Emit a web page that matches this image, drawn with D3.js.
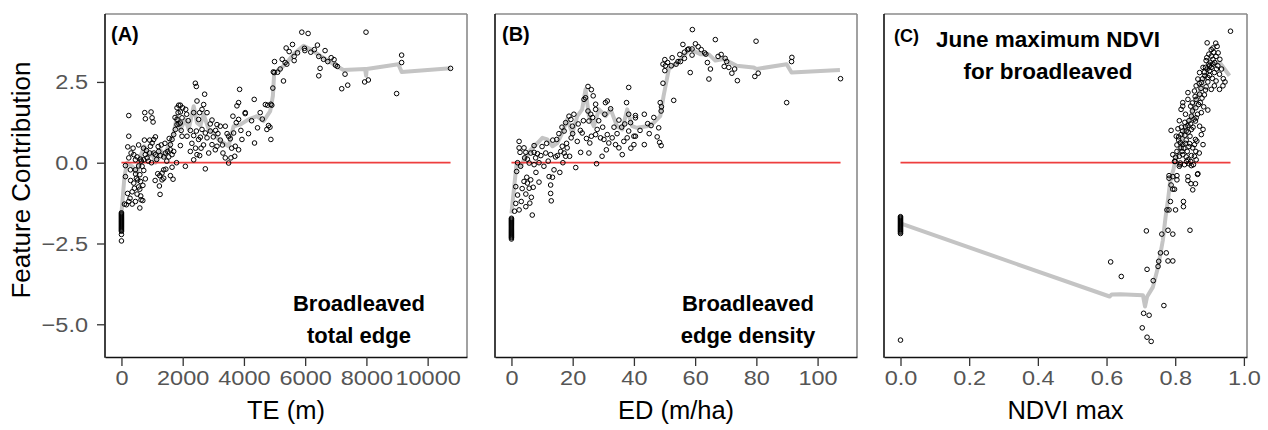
<!DOCTYPE html>
<html><head><meta charset="utf-8">
<script src="https://cdn.jsdelivr.net/npm/d3@7"></script>
<style>body{margin:0;background:#fff}svg{display:block;font-family:"Liberation Sans",Arial,sans-serif}</style>
</head><body>
<svg id="chart" width="1268" height="430"></svg>
<script>
// ---------------- data ----------------
const teZeroY = [-1.55,-1.58,-1.61,-1.64,-1.67,-1.7,-1.73,-1.76,-1.79,-1.82,-1.85,-1.88,-1.91,-1.94,-1.97,-2.0,-2.03,-2.06,-2.09,-2.12,-2.22,-2.42];
const tePoints = [[98,-1.28],[239,-1.2],[456,-1.2],[641,-1.15],[696,-1.17],[630,-1.03],[510,-0.97],[424,-0.79],[598,-0.82],[402,-0.63],[533,-0.53],[620,-0.58],[489,-0.48],[130,-0.43],[130,-0.09],[293,-0.22],[456,-0.22],[674,-0.11],[728,-0.24],[600,-0.37],[239,0.15],[315,0.30],[402,0.25],[456,0.09],[510,0.18],[620,0.11],[728,0.09],[837,0.15],[206,0.49],[239,0.82],[239,1.46],[761,1.55],[967,1.57],[782,1.36],[1000,1.39],[1033,1.26],[750,0.70],[924,0.70],[1000,0.61],[1054,0.72],[1109,0.80],[946,0.51],[815,0.38],[924,0.30],[1109,0.25],[1217,0.35],[1270,0.22],[1380,0.18],[1435,0.30],[1511,0.35],[1598,0.40],[1545,0.18],[1652,0.25],[1706,0.35],[1598,0.56],[1652,0.72],[1706,0.87],[1761,1.03],[1815,1.18],[1815,1.34],[1869,1.78],[1924,1.78],[1815,1.70],[1924,1.57],[1978,1.39],[1924,1.23],[2098,1.65],[2130,1.50],[2141,0.82],[1978,0.82],[1924,0.53],[1380,-0.22],[1326,-0.32],[1250,-0.40],[1326,-0.53],[1380,-0.48],[1239,-0.72],[1261,-0.98],[1185,-0.34],[1598,-0.40],[1685,-0.51],[1652,-0.14],[2087,-0.11],[2250,0.35],[2359,0.09],[2467,0.25],[2554,0.22],[2739,-0.19],[2359,0.84],[2446,0.98],[2520,0.72],[2576,0.79],[2630,1.03],[2739,0.92],[2554,1.55],[2520,1.34],[2359,1.55],[2413,2.46],[2446,2.36],[2717,2.12],[2467,1.91],[2685,1.80],[2630,1.65],[2794,1.55],[2957,1.32],[3120,1.18],[3076,1.00],[2902,0.98],[2794,0.77],[2957,0.56],[3065,0.40],[3120,0.51],[3228,0.70],[3315,0.30],[3391,0.15],[3500,-0.01],[3576,0.15],[3228,1.13],[3391,1.13],[3500,0.82],[3554,0.74],[3663,0.92],[3750,1.24],[3826,1.34],[3826,1.86],[3772,1.76],[3859,2.27],[3640,1.44],[3717,0.51],[3826,0.40],[3935,0.72],[4043,1.55],[4336,1.96],[4042,1.52],[4531,1.55],[4444,1.08],[4346,0.61],[4880,0.72],[4749,1.03],[4803,1.15],[4850,1.10],[4771,1.78],[4880,1.81],[4910,1.78],[4944,2.31],[4988,2.79],[4960,2.81],[4999,3.13],[5292,2.53],[5183,2.90],[5346,3.10],[5400,3.05],[5379,3.55],[5477,3.44],[5586,3.66],[5640,3.29],[5640,3.16],[5890,4.04],[6096,4.0],[5977,3.54],[5990,3.47],[6183,3.42],[6401,3.64],[6444,3.29],[6650,3.47],[6487,2.92],[6444,2.69],[6738,3.13],[6944,3.19],[6990,3.02],[7052,2.98],[7302,2.74],[7194,2.29],[7390,2.40],[7987,4.04],[7943,2.50],[8063,2.56],[8987,2.14],[9150,3.33],[9150,3.10],[10748,2.92],
[160,-1.3],[280,-1.1],[350,-0.9],[560,-0.75],[700,-0.7],[460,-0.35],[560,-0.1],[650,0.05],[780,0.25],[880,0.05],[980,0.0],[1060,0.3],[1150,0.1],[1200,0.5],[1300,0.55],[1420,0.6],[1480,0.05],[1560,0.75],[1750,1.4],[1850,1.55],[1880,1.2],[1950,1.0],[2000,1.7],[2180,1.3],[2250,1.0],[2300,0.6],[2420,0.45],[2600,0.45],[2680,0.55],[2850,0.3],[2900,1.2],[3000,0.8],[3150,0.9],[3300,0.55],[3450,0.9],[3600,0.45],[3700,0.2],[3900,1.0],[4150,0.9],[4250,1.3],[4600,1.35],[4700,1.8],[5100,2.8],[5250,3.2],[5750,3.4],[6300,3.5],[6600,3.2],[6850,3.25],[1800,0.0],[1100,-0.55],[1450,-0.2],[720,0.45],[560,0.55],[380,0.45],[300,-0.55],[200,-0.95],[350,-1.28],[600,-1.4],[780,-0.5]];
const teLine = [[0,-1.57],[98,-0.43],[185,0],[348,-0.11],[511,-0.32],[620,0.2],[750,0.51],[891,0.2],[1000,0.3],[1109,0],[1272,0.4],[1380,0.2],[1543,0.51],[1707,0.92],[1815,1.44],[1924,1.03],[2087,1.34],[2196,1.03],[2359,1.75],[2467,1.24],[2576,1.15],[2685,1.5],[2848,1.03],[3011,0.92],[3174,0.72],[3337,0.61],[3500,0.51],[3663,1.13],[3881,1.18],[4152,1.34],[4424,1.44],[4641,1.29],[4859,1.6],[4946,2.07],[4989,2.79],[5185,2.9],[5402,3.1],[5620,3.36],[5946,3.62],[6163,3.52],[6489,3.31],[6924,3.05],[7250,2.87],[7957,2.9],[7990,2.69],[8010,2.9],[9044,3.05],[9152,2.81],[10750,2.92]];

const edZeroY = [-1.72,-1.75,-1.78,-1.81,-1.84,-1.87,-1.9,-1.93,-1.96,-1.99,-2.02,-2.05,-2.08,-2.11,-2.14,-2.17,-2.2,-2.23,-2.26,-2.29,-2.32,-2.36];
const edPoints = [[1.4,-1.26],[2.5,-1.46],[4.7,-1.36],[6.8,-1.62],[6.5,-1.07],[4.7,-0.97],[5.8,-0.79],[7.1,-0.76],[5.2,-0.63],[4.1,-0.58],[5.0,-0.45],[6.3,-0.53],[1.4,-0.74],[1.7,-0.27],[3.0,-0.11],[5.2,0.11],[4.3,0.15],[5.8,-0.01],[7.4,-0.06],[2.5,0.46],[2.5,0.66],[2.8,0.32],[4.1,0.46],[4.7,0.32],[6.3,0.30],[7.4,0.32],[8.5,0.28],[7.9,0.15],[7.4,0.53],[9.6,0.22],[10.6,-0.11],[11.2,0.30],[12.8,0.25],[12.3,-0.43],[13.4,-0.45],[12.8,-0.69],[12.8,-0.95],[13.0,-1.18],[13.9,-0.22],[14.4,0.18],[15.0,0.22],[14.8,0.72],[16.6,0.51],[16.1,0.35],[17.2,0.30],[17.7,0.20],[18.2,0.46],[17.2,0.98],[17.7,1.24],[18.8,1.44],[19.4,1.34],[20.4,1.50],[19.9,1.13],[19.5,0.77],[21.5,0.66],[22.6,0.32],[21.0,-0.15],[23.1,0.92],[23.7,1.96],[24.2,2.01],[25.0,2.36],[26.1,2.26],[26.7,2.07],[27.5,1.81],[27.5,1.65],[25.0,1.60],[25.9,1.50],[25.3,1.29],[26.1,0.82],[25.6,0.61],[27.5,0.87],[28.0,1.03],[29.1,0.77],[30.2,0.72],[31.3,0.87],[31.8,0.61],[32.9,0.77],[29.6,0.20],[27.8,-0.03],[25.3,0.30],[30.7,1.86],[31.3,1.91],[32.4,1.67],[35.1,1.32],[34.0,0.56],[35.1,0.46],[36.2,0.25],[36.7,0.66],[37.8,0.77],[38.3,0.98],[38.3,2.33],[37.6,1.86],[38.3,1.50],[38.9,1.24],[40.0,0.82],[40.5,1.39],[43.4,1.50],[40.5,1.46],[44.5,1.21],[45.6,1.15],[48.1,1.08],[47.6,0.80],[48.4,0.63],[48.9,0.53],[43.4,0.56],[40.0,0.56],[40.5,0.82],[48.6,1.86],[49.0,1.73],[48.9,1.60],[49.5,2.46],[50.1,2.85],[50.3,3.00],[49.5,3.05],[50.1,3.19],[53.0,1.93],[52.2,3.00],[53.8,3.05],[54.4,3.13],[55.2,3.13],[56.5,3.23],[56.5,3.42],[56.0,3.66],[58.4,2.79],[59.1,4.12],[57.9,3.52],[59.0,3.52],[59.0,3.33],[60.1,3.68],[61.0,3.59],[63.1,3.40],[63.5,3.36],[65.0,2.90],[64.5,2.59],[66.6,3.81],[67.5,3.29],[69.8,3.23],[70.3,3.13],[69.5,2.98],[72.9,2.90],[72.0,2.77],[73.8,2.54],[79.9,3.76],[80.6,2.77],[79.5,2.67],[89.9,1.86],[91.6,3.26],[91.5,3.13],[107.5,2.60],
[1.0,-1.5],[2.0,-1.0],[3.5,-0.8],[3.2,-1.2],[6.0,-1.25],[8.0,-0.3],[9.0,-0.6],[10.0,0.5],[11.5,0.6],[13.5,0.7],[15.5,0.9],[16.5,1.1],[18.0,0.6],[19.0,0.2],[20.0,0.9],[21.8,1.2],[22.5,1.0],[23.5,1.3],[24.5,0.75],[26.5,1.4],[28.5,1.3],[29.8,1.1],[30.5,1.5],[31.0,0.4],[33.5,1.1],[34.5,0.9],[36.0,1.1],[37.0,1.2],[39.0,0.45],[42.0,1.0],[45.0,0.9],[46.5,1.4],[51.0,3.1],[52.5,3.25],[55.0,3.35],[57.5,3.5],[62.0,3.5],[64.0,3.1],[68.5,3.35],[71.0,2.95],[2.0,0.0],[9.0,0.0],[12.0,0.05],[15.8,-0.3],[16.8,0.0]];
const edLine = [[0,-1.57],[1.7,0.0],[3.0,-0.11],[4.7,0.2],[6.3,0.4],[8.5,0.61],[10.1,0.77],[11.7,0.72],[13.4,0.51],[15.0,0.61],[16.6,0.92],[18.2,1.34],[19.9,0.92],[21.5,1.44],[23.1,1.65],[24.2,2.27],[25.3,1.44],[26.9,1.13],[28.6,1.65],[30.7,1.44],[32.4,1.65],[34.5,1.13],[36.2,1.03],[37.8,1.65],[39.4,1.13],[41.0,1.08],[44.3,1.13],[46.5,1.24],[48.6,1.44],[49.7,2.07],[51.4,2.90],[54.1,3.10],[58.4,3.52],[61.7,3.36],[64.4,3.36],[66.6,3.16],[69.3,3.21],[73.6,3.00],[79.0,2.95],[80.1,2.90],[89.9,3.05],[91.5,2.79],[107.3,2.87]];

const ndviZeroY = [-1.67,-1.70,-1.73,-1.76,-1.79,-1.82,-1.85,-1.88,-1.91,-1.94,-1.97,-2.0,-2.03,-2.06,-2.09,-2.12,-2.15,-2.19,-5.49];
const ndviPoints = [[0.612,-3.07],[0.643,-3.52],[0.716,-2.11],[0.718,-3.30],[0.736,-3.65],[0.708,-4.66],[0.724,-4.72],[0.704,-5.11],[0.718,-5.40],[0.730,-5.53],[0.750,-3.21],[0.752,-3.05],[0.757,-2.79],[0.774,-2.79],[0.779,-3.04],[0.793,-3.04],[0.767,-4.42],[0.761,-2.21],[0.779,-2.09],[0.793,-2.21],[0.843,-2.09],[0.776,-1.46],[0.782,-1.46],[0.801,-1.46],[0.786,-1.20],[0.824,-1.20],[0.824,-1.36],[0.782,-0.48],[0.788,-0.69],[0.793,-0.82],[0.798,-0.82],[0.805,-0.40],[0.837,-0.55],[0.846,-0.65],[0.851,-0.84],[0.859,-0.65],[0.865,-0.36],[0.800,0.04],[0.814,-0.06],[0.833,0.04],[0.845,0.04],[0.853,-0.06],[0.961,4.07],[0.893,3.71],[0.922,3.60],[0.905,3.50],[0.912,3.42],[0.898,3.36],[0.919,3.29],[0.890,3.16],[0.902,3.11],[0.910,3.05],[0.924,3.00],[0.881,2.95],[0.893,2.90],[0.900,2.85],[0.914,2.79],[0.929,2.74],[0.886,2.69],[0.895,2.64],[0.908,2.61],[0.919,2.53],[0.871,2.79],[0.866,2.59],[0.876,2.48],[0.914,2.38],[0.939,2.38],[0.905,2.27],[0.888,2.25],[0.929,2.27],[0.861,2.38],[0.856,2.22],[0.871,2.12],[0.837,2.17],[0.837,1.96],[0.822,1.75],[0.817,1.65],[0.822,1.86],[0.861,1.96],[0.873,1.86],[0.883,1.73],[0.895,1.63],[0.876,1.55],[0.861,1.39],[0.847,1.44],[0.859,1.29],[0.871,1.13],[0.881,1.03],[0.837,1.15],[0.830,1.11],[0.847,1.03],[0.822,0.98],[0.810,0.80],[0.817,0.87],[0.843,0.82],[0.788,1.00],[0.803,0.82],[0.832,0.98],[0.810,0.70],[0.832,0.70],[0.842,0.59],[0.851,0.46],[0.856,0.56],[0.863,0.67],[0.876,0.87],[0.881,0.56],[0.859,0.72],[0.822,0.56],[0.817,0.46],[0.805,0.35],[0.793,0.25],[0.801,0.17],[0.812,0.20],[0.822,0.25],[0.832,0.18],[0.837,0.09],[0.847,0.22],[0.856,0.20],[0.861,0.09],[0.798,0.04],[0.815,-0.01],[0.827,-0.06],[0.840,-0.03],[0.847,-0.09],[0.812,-0.11],[0.866,-0.34],[0.782,-0.40],[0.793,-0.43],[0.837,-0.43],[0.805,-0.53],
[0.805,0.55],[0.815,0.62],[0.825,0.45],[0.835,0.35],[0.84,0.5],[0.828,0.85],[0.838,0.95],[0.845,1.2],[0.852,1.1],[0.855,1.35],[0.84,1.3],[0.85,1.6],[0.86,1.7],[0.865,1.5],[0.868,1.8],[0.878,2.0],[0.885,2.1],[0.89,2.35],[0.895,2.5],[0.9,2.7],[0.905,2.95],[0.91,3.2],[0.915,3.1],[0.92,2.9],[0.9,3.0],[0.885,2.8],[0.88,2.6],[0.875,2.3],[0.87,2.45],[0.858,2.05],[0.85,1.85],[0.845,1.75],[0.83,1.5],[0.828,1.25],[0.818,1.1],[0.812,1.3],[0.808,1.05],[0.82,0.35],[0.83,0.6],[0.86,0.35],[0.87,0.3],[0.905,3.3],[0.925,3.4],[0.93,3.2],[0.935,2.9],[0.94,2.6],[0.945,2.5],[0.918,3.7],[0.91,3.55],[0.898,3.05],[0.888,2.95],[0.892,3.25]];
const ndviLine = [[0,-1.88],[0.609,-4.14],[0.615,-4.08],[0.64,-4.07],[0.706,-4.10],[0.712,-4.45],[0.718,-4.15],[0.735,-3.85],[0.75,-3.23],[0.764,-2.4],[0.772,-1.67],[0.779,-1.15],[0.785,-0.6],[0.795,-0.2],[0.80,0.05],[0.81,0.3],[0.827,1.03],[0.847,1.44],[0.866,2.07],[0.881,2.48],[0.895,2.9],[0.91,3.05],[0.93,3.1],[0.958,2.69]];

const teTicks = [0,2000,4000,6000,8000,10000];
const edTicks = [0,20,40,60,80,100];
const ndviTicks = [0,0.2,0.4,0.6,0.8,1.0];
const yTicks = [-5,-2.5,0,2.5];
const panelLabels = ["(A)","(B)","(C)"];
const xTitles = ["TE (m)","ED (m/ha)","NDVI max"];
const notes = [["Broadleaved","total edge"],["Broadleaved","edge density"],["June maximum NDVI","for broadleaved"]];
const yTitle = "Feature Contribution";

// ---------------- layout ----------------
const svg = d3.select("#chart");
const plotTop = 14, plotBottom = 357;
const stretch = 1.12;
const minus = s => s.replace("-", "\u2212");
const panels = [
  {left:105, right:467, zero:teZeroY, pts:tePoints, line:teLine, ticks:teTicks, fmt:d=>String(d), lab:{x:111,y:41,size:20}, note:{x:359,y:311,size:22}},
  {left:495, right:857, zero:edZeroY, pts:edPoints, line:edLine, ticks:edTicks, fmt:d=>String(d), lab:{x:502,y:41,size:20}, note:{x:748,y:311,size:22}},
  {left:884, right:1247, zero:ndviZeroY, pts:ndviPoints, line:ndviLine, ticks:ndviTicks, fmt:d3.format(".1f"), lab:{x:894,y:42,size:18}, note:{x:1048,y:47,size:22.5}}
];

const allY = [];
panels.forEach(p => { p.zero.forEach(v=>allY.push(v)); p.pts.forEach(d=>allY.push(d[1])); });
const yMin = d3.min(allY), yMax = d3.max(allY), yPad = (yMax-yMin)*0.05;
const y = d3.scaleLinear().domain([yMin-yPad, yMax+yPad]).range([plotBottom, plotTop]);

panels.forEach((p, i) => {
  const xs = p.pts.map(d=>d[0]).concat([0]);
  const xMin = d3.min(xs), xMax = d3.max(xs), pad = (xMax-xMin)*0.05;
  const x = d3.scaleLinear().domain([xMin-pad, xMax+pad]).range([p.left, p.right]);
  const g = svg.append("g");

  g.append("path").datum(p.line)
    .attr("fill","none").attr("stroke","#c4c4c4").attr("stroke-width",4)
    .attr("stroke-linejoin","round")
    .attr("d", d3.line().x(d=>x(d[0])).y(d=>y(d[1])));
  g.append("line").attr("x1",x(0)).attr("x2",x(xMax)).attr("y1",y(0)).attr("y2",y(0))
    .attr("stroke","#ee3e3e").attr("stroke-width",1.8);
  const pts = p.zero.map(v=>[0,v]).concat(p.pts);
  g.selectAll("circle.pt").data(pts).join("circle")
    .attr("cx", d=>x(d[0])).attr("cy", d=>y(d[1])).attr("r",2.3)
    .attr("fill","none").attr("stroke","#000").attr("stroke-width",1);

  g.append("line").attr("x1",p.left).attr("x2",p.right).attr("y1",plotTop).attr("y2",plotTop).attr("stroke","#8a8a8a").attr("stroke-width",1.6);
  g.append("line").attr("x1",p.right).attr("x2",p.right).attr("y1",plotTop).attr("y2",plotBottom).attr("stroke","#8a8a8a").attr("stroke-width",1.6);

  const xa = d3.axisBottom(x).tickValues(p.ticks).tickFormat(p.fmt).tickSize(9).tickPadding(4).tickSizeOuter(0);
  const ax = svg.append("g").attr("transform",`translate(0,${plotBottom})`).call(xa);
  ax.select(".domain").attr("stroke","#111").attr("stroke-width",1.6);
  ax.selectAll(".tick line").attr("stroke","#333").attr("stroke-width",1.3);
  ax.selectAll(".tick text").attr("fill","#555").attr("font-size",21).attr("font-family","Liberation Sans, Arial, sans-serif")
    .attr("transform",`scale(${stretch},1)`);
  svg.append("line").attr("x1",p.left).attr("x2",p.left).attr("y1",plotTop).attr("y2",plotBottom+0.8).attr("stroke","#111").attr("stroke-width",1.6);

  if (i === 0) {
    const ya = d3.axisLeft(y).tickValues(yTicks).tickFormat(d=>minus(d3.format(".1f")(d))).tickSize(8).tickPadding(9).tickSizeOuter(0);
    const ay = svg.append("g").attr("transform",`translate(${p.left},0)`).call(ya);
    ay.select(".domain").remove();
    ay.selectAll(".tick line").attr("stroke","#333").attr("stroke-width",1.3);
    ay.selectAll(".tick text").attr("fill","#555").attr("font-size",21).attr("font-family","Liberation Sans, Arial, sans-serif")
      .attr("x", -17/stretch).attr("transform",`scale(${stretch},1)`);
  }

  svg.append("text").attr("x",(p.left+p.right)/2).attr("y",419).attr("text-anchor","middle")
    .attr("font-size",25.5).attr("fill","#000").text(xTitles[i]);
  svg.append("text").attr("x",p.lab.x).attr("y",p.lab.y).attr("font-size",p.lab.size).attr("font-weight","bold").text(panelLabels[i]);
  notes[i].forEach((t,k)=>{
    svg.append("text").attr("x",p.note.x).attr("y",p.note.y+k*32).attr("text-anchor","middle")
      .attr("font-size",p.note.size).attr("font-weight","bold").text(t);
  });
});

svg.append("text").attr("transform","translate(30,180) rotate(-90)").attr("text-anchor","middle")
  .attr("font-size",26).attr("fill","#000").text(yTitle);
</script>
</body></html>
